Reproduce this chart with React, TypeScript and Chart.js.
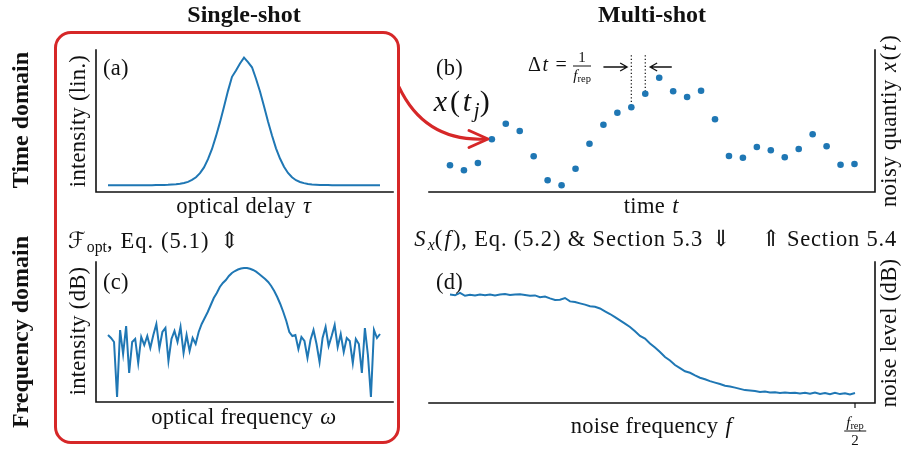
import React, { useEffect, useRef } from "react";
import { Chart, registerables } from "chart.js";

Chart.register(...registerables);

// ---------------- data ----------------
// (a) single-shot pulse, intensity (linear, normalised to peak), one sample per delay step
const pulseIntensityLin = [
  0.001, 0.0, 0.001, 0.0, 0.001, 0.0, 0.001, 0.001, 0.0, 0.001,
  0.001, 0.001, 0.002, 0.002, 0.003, 0.004, 0.006, 0.008, 0.012, 0.018,
  0.027, 0.042, 0.063, 0.095, 0.14, 0.205, 0.285, 0.385, 0.495, 0.615,
  0.74, 0.85, 0.9, 0.955, 1.0, 0.965, 0.925, 0.835, 0.735, 0.62,
  0.5, 0.39, 0.29, 0.21, 0.145, 0.097, 0.063, 0.04, 0.026, 0.017,
  0.011, 0.007, 0.005, 0.003, 0.002, 0.002, 0.001, 0.001, 0.001, 0.0,
  0.001, 0.0, 0.001, 0.0, 0.001, 0.0, 0.001, 0.0, 0.001,
];

// (b) multi-shot samples x(t_j) of the noisy quantity
const noisySamples = [
  26.7, 21.7, 29, 52.7, 68.3, 61, 35.7, 11.7, 6.7, 23.3,
  48.3, 67.3, 79.3, 84.7, 98.3, 114.3, 100.7, 95, 101.3, 72.7,
  36, 34.3, 45, 41.7, 34.7, 43, 57.7, 45.7, 27.3, 28,
];

// (c) optical spectrum, intensity in dB (arbitrary reference)
const spectrumDb = [
  67, 64, 60, 5, 72, 48, 76, 29, 60, 63,
  39, 65, 57, 66, 54, 67, 78, 54, 70, 74,
  41, 63, 71, 60, 75, 49, 67, 51, 64, 58,
  70, 78, 84, 90, 97, 104, 109, 115, 119, 122,
  126, 129, 131, 132.5, 133.5, 134, 133.9, 133.2, 132, 130.3,
  128, 125.5, 123, 120, 116, 111, 105, 98, 90, 81,
  70, 66, 67, 53, 65, 61, 44, 62, 72, 58,
  40, 64, 75, 56, 66, 77, 55, 68, 50, 64,
  61, 39, 63, 58, 29, 74, 47, 5, 72, 64,
  68,
];

// (d) noise power spectral density (dB, arbitrary reference), up to f_rep/2
const noiseLevelDb = [
  108.4, 107.7, 110.2, 107.2, 108.3, 107.4, 108.5, 107.8, 108.6, 107.6,
  108.4, 108.9, 107.9, 108.5, 108.8, 108.1, 107.2, 107.6, 105.8, 106.4,
  104.6, 103.0, 103.2, 105.0, 101.6, 100.9, 99.6, 98.4, 96.8, 96.2,
  94.5, 91.7, 89.0, 85.8, 82.6, 79.4, 76.0, 71.7, 67.0, 64.4,
  59.6, 55.4, 51.0, 46.0, 42.5, 38.0, 34.8, 31.7, 30.2, 27.6,
  25.3, 23.7, 21.9, 20.4, 19.0, 17.2, 16.4, 15.4, 14.1, 12.9,
  12.4, 11.9, 11.1, 11.4, 10.5, 10.8, 10.1, 10.6, 9.9, 10.3,
  9.6, 10.2, 9.3, 10.4, 9.1, 9.9, 8.8, 10.1, 8.9, 9.8,
  8.6, 10.0,
];
const halfRepRateIndex = 81; // sample index of f_rep / 2

// ---------------- styling ----------------
const BLUE = "#1f77b4";
const RED = "#d62728";
const INK = "#111111";
const FONT = '"Liberation Serif", "DejaVu Serif", "DejaVu Sans", serif';
const PAD = 6;

type Box = { left: number; top: number; width: number; height: number };

function drawArrow(ctx: CanvasRenderingContext2D, x0: number, x1: number, y: number) {
  const dir = Math.sign(x1 - x0);
  ctx.beginPath();
  ctx.moveTo(x0, y);
  ctx.lineTo(x1, y);
  ctx.moveTo(x1 - dir * 7, y - 4);
  ctx.lineTo(x1, y);
  ctx.lineTo(x1 - dir * 7, y + 4);
  ctx.stroke();
}

function PlotPanel(props: {
  box: Box;
  values: number[];
  points?: boolean;
  xMin: number;
  xMax: number;
  yMin: number;
  yMax: number;
  spine: "left" | "right";
  tickAt?: number;
  overlay?: (chart: any) => void;
}) {
  const ref = useRef<HTMLCanvasElement>(null);
  const { box } = props;
  useEffect(() => {
    const canvas = ref.current!;
    const spinePlugin = {
      id: "spines",
      beforeDatasetsDraw(chart: any) {
        if (props.overlay) {
          chart.ctx.save();
          props.overlay(chart);
          chart.ctx.restore();
        }
      },
      afterDatasetsDraw(chart: any) {
        const { ctx, chartArea: a } = chart;
        ctx.save();
        ctx.strokeStyle = INK;
        ctx.lineWidth = 1.6;
        ctx.lineCap = "square";
        ctx.beginPath();
        ctx.moveTo(a.left, a.bottom);
        ctx.lineTo(a.right, a.bottom);
        const sx = props.spine === "left" ? a.left : a.right;
        ctx.moveTo(sx, a.top);
        ctx.lineTo(sx, a.bottom);
        ctx.stroke();
        if (props.tickAt !== undefined) {
          const tx = chart.scales.x.getPixelForValue(props.tickAt);
          ctx.lineWidth = 1.2;
          ctx.lineCap = "butt";
          ctx.beginPath();
          ctx.moveTo(tx, a.bottom);
          ctx.lineTo(tx, a.bottom + 5);
          ctx.stroke();
        }
        ctx.restore();
      },
    };
    const chart = new Chart(canvas, {
      type: "line",
      data: {
        datasets: [
          {
            data: props.values.map((v, i) => ({ x: i, y: v })),
            borderColor: BLUE,
            backgroundColor: BLUE,
            borderWidth: 2,
            showLine: !props.points,
            pointRadius: props.points ? 3.3 : 0,
            pointBorderWidth: 0,
            pointBackgroundColor: BLUE,
            tension: 0,
            clip: 8,
          } as any,
        ],
      },
      options: {
        animation: false,
        responsive: false,
        maintainAspectRatio: false,
        events: [],
        layout: { padding: PAD },
        plugins: { legend: { display: false }, tooltip: { enabled: false } },
        scales: {
          x: { type: "linear", display: false, min: props.xMin, max: props.xMax },
          y: { type: "linear", display: false, min: props.yMin, max: props.yMax },
        },
      },
      plugins: [spinePlugin],
    });
    return () => chart.destroy();
  }, []);
  const w = box.width + 2 * PAD;
  const h = box.height + 2 * PAD;
  return (
    <canvas
      ref={ref}
      width={w}
      height={h}
      style={{ position: "absolute", left: box.left - PAD, top: box.top - PAD, width: w, height: h }}
    />
  );
}

function Txt(props: {
  x: number;
  y: number;
  size?: number;
  bold?: boolean;
  rot?: boolean;
  ls?: number;
  align?: "center" | "left" | "right";
  children: React.ReactNode;
}) {
  const { x, y, size = 22.5, bold = false, rot = false, align = "center", ls = 0.3 } = props;
  const tx = align === "center" ? "-50%" : align === "left" ? "0%" : "-100%";
  return (
    <div
      style={{
        position: "absolute",
        left: x,
        top: y,
        transform: `translate(${tx}, -50%)${rot ? " rotate(-90deg)" : ""}`,
        fontSize: size,
        fontWeight: bold ? 700 : 400,
        fontFamily: FONT,
        letterSpacing: ls,
        lineHeight: 1,
        whiteSpace: "nowrap",
        color: INK,
      }}
    >
      {props.children}
    </div>
  );
}

// math italic letter with a little extra side bearing (closer to TeX math spacing)
const M = ({ children }: { children: React.ReactNode }) => (
  <i style={{ padding: "0 0.06em" }}>{children}</i>
);

const Sub = ({ children }: { children: React.ReactNode }) => (
  <sub style={{ fontSize: "0.7em", verticalAlign: "-0.28em", lineHeight: 0, letterSpacing: 0 }}>{children}</sub>
);

const Gap = ({ w }: { w: number }) => <span style={{ display: "inline-block", width: w }} />;

const Frac = ({ num, den, size }: { num: React.ReactNode; den: React.ReactNode; size: number }) => (
  <span
    style={{
      display: "inline-flex",
      flexDirection: "column",
      alignItems: "center",
      verticalAlign: "middle",
      fontSize: size,
      lineHeight: 1,
      letterSpacing: 0,
    }}
  >
    <span style={{ padding: "0 2px" }}>{num}</span>
    <span style={{ alignSelf: "stretch", borderTop: `1px solid ${INK}`, margin: "1px 0 1px 0" }} />
    <span>{den}</span>
  </span>
);

export default function App() {
  const boxA: Box = { left: 96, top: 50, width: 297, height: 142 };
  const boxB: Box = { left: 429, top: 50, width: 446, height: 142 };
  const boxC: Box = { left: 96, top: 262, width: 297, height: 140 };
  const boxD: Box = { left: 429, top: 262, width: 446, height: 141 };

  const markTop = 136.7; // data units of panel (b)
  const arrowLevel = 125;
  const overlayB = (chart: any) => {
    const { ctx } = chart;
    const xs = chart.scales.x;
    const ys = chart.scales.y;
    ctx.strokeStyle = INK;
    ctx.lineWidth = 1.2;
    ctx.setLineDash([1.3, 2.2]);
    for (const k of [13, 14]) {
      const px = xs.getPixelForValue(k);
      ctx.beginPath();
      ctx.moveTo(px, ys.getPixelForValue(markTop));
      ctx.lineTo(px, ys.getPixelForValue(noisySamples[k]));
      ctx.stroke();
    }
    ctx.setLineDash([]);
    ctx.lineWidth = 1.3;
    const ay = ys.getPixelForValue(arrowLevel);
    drawArrow(ctx, xs.getPixelForValue(13 - 2.0), xs.getPixelForValue(13 - 0.3), ay);
    drawArrow(ctx, xs.getPixelForValue(14 + 1.9), xs.getPixelForValue(14 + 0.35), ay);
  };

  return (
    <div
      style={{
        position: "fixed",
        left: 0,
        top: 0,
        width: 905,
        height: 449,
        background: "#ffffff",
        overflow: "hidden",
        fontFamily: FONT,
      }}
    >
      {/* red rounded frame around single-shot column */}
      <div
        style={{
          position: "absolute",
          left: 53.5,
          top: 31,
          width: 346.5,
          height: 413,
          border: `3px solid ${RED}`,
          borderRadius: 17,
          boxSizing: "border-box",
        }}
      />

      <PlotPanel box={boxA} values={pulseIntensityLin} xMin={-3} xMax={71.25} yMin={-0.0525} yMax={1.0603} spine="left" />
      <PlotPanel
        box={boxB}
        values={noisySamples}
        points
        xMin={-1.505}
        xMax={30.47}
        yMin={0}
        yMax={142}
        spine="right"
        overlay={overlayB}
      />
      <PlotPanel box={boxC} values={spectrumDb} xMin={-3.97} xMax={94.3} yMin={0} yMax={140} spine="left" />
      <PlotPanel
        box={boxD}
        values={noiseLevelDb}
        xMin={-4.2}
        xMax={85}
        yMin={0}
        yMax={141}
        spine="right"
        tickAt={halfRepRateIndex}
      />

      {/* curved red arrow */}
      <svg
        width={905}
        height={449}
        style={{ position: "absolute", left: 0, top: 0, pointerEvents: "none" }}
      >
        <path d="M 399 87 Q 425 142 486 139" fill="none" stroke={RED} strokeWidth={3} strokeLinecap="round" />
        <polyline
          points="469,130.5 488,139 469,147.5"
          fill="none"
          stroke={RED}
          strokeWidth={3}
          strokeLinecap="round"
          strokeLinejoin="round"
        />
      </svg>

      {/* column / row headers */}
      <Txt x={244} y={14} size={24} bold ls={0}>Single-shot</Txt>
      <Txt x={652} y={14} size={24} bold ls={0}>Multi-shot</Txt>
      <Txt x={20} y={120} size={24} bold rot ls={0}>Time domain</Txt>
      <Txt x={20} y={332} size={24} bold rot ls={0}>Frequency domain</Txt>

      {/* panel (a) */}
      <Txt x={103} y={68} align="left">(a)</Txt>
      <Txt x={78} y={121} rot>intensity (lin.)</Txt>
      <Txt x={244.5} y={206}>optical delay <M>τ</M></Txt>

      {/* panel (b) */}
      <Txt x={436} y={68} align="left">(b)</Txt>
      <Txt x={432} y={101} size={30} ls={1} align="left">
        <M>x</M>(<M>t</M><Sub><i>j</i></Sub>)
      </Txt>
      <Txt x={528} y={66} size={20} ls={0.4} align="left">
        Δ<M>t</M><Gap w={6} />=<Gap w={6} />
        <Frac size={15} num="1" den={<span><i>f</i><Sub>rep</Sub></span>} />
      </Txt>
      <Txt x={889} y={121} rot ls={0.45}>noisy quantiy <M>x</M>(<M>t</M>)</Txt>
      <Txt x={652} y={206}>time <M>t</M></Txt>

      {/* middle relations */}
      <Txt x={68} y={241} align="left" ls={1.1}>
        ℱ<Sub>opt</Sub>, Eq. (5.1)<Gap w={10} />⇕
      </Txt>
      <Txt x={413} y={239} align="left" ls={0.85}>
        <M>S</M><Sub><i>x</i></Sub>(<M>f</M>), Eq. (5.2) &amp; Section 5.3<Gap w={8} />⇓
      </Txt>
      <Txt x={897} y={239} align="right" ls={0.8}>⇑<Gap w={6} />Section 5.4</Txt>

      {/* panel (c) */}
      <Txt x={103} y={282} align="left">(c)</Txt>
      <Txt x={78} y={331} rot>intensity (dB)</Txt>
      <Txt x={244.5} y={417}>optical frequency <M>ω</M></Txt>

      {/* panel (d) */}
      <Txt x={436} y={282} align="left">(d)</Txt>
      <Txt x={889} y={333} rot>noise level (dB)</Txt>
      <Txt x={652} y={426}>noise frequency <M>f</M></Txt>
      <Txt x={855} y={431} size={15} ls={0}>
        <Frac size={15} num={<span><i>f</i><Sub>rep</Sub></span>} den="2" />
      </Txt>
    </div>
  );
}
